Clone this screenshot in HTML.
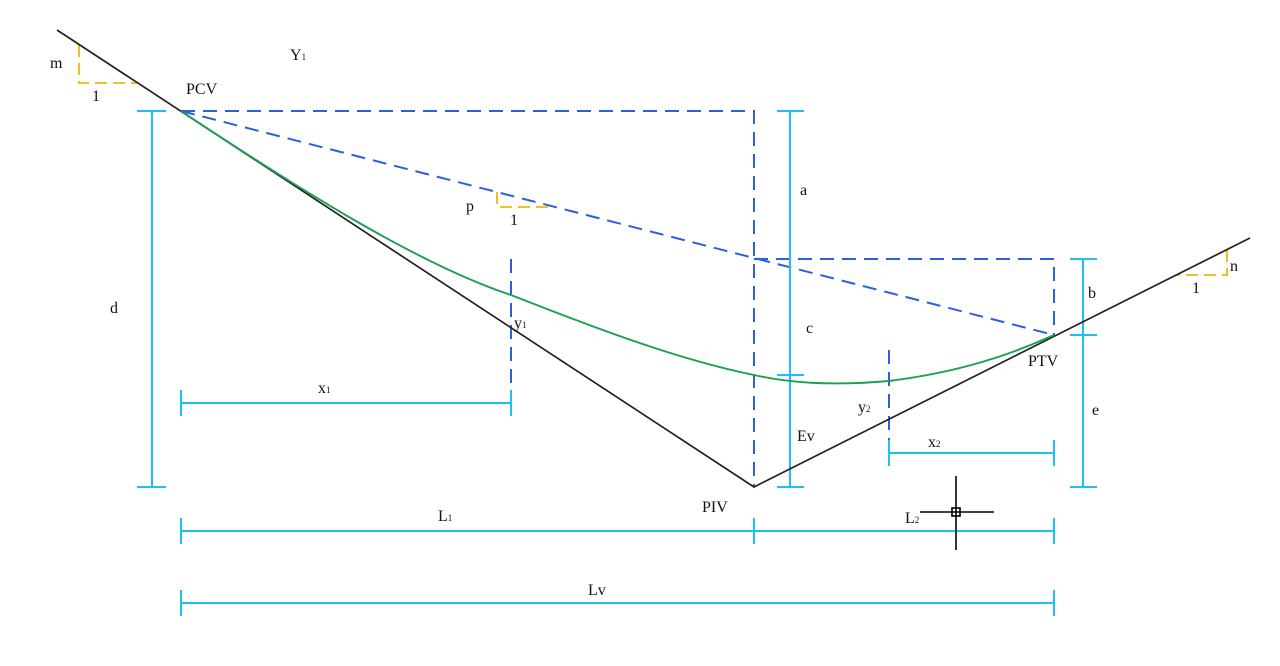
<!DOCTYPE html>
<html><head><meta charset="utf-8"><style>
html,body{margin:0;padding:0;background:#fff;}
svg text{font-family:"Liberation Serif",serif;font-size:16px;fill:#111;}
</style></head><body>
<svg width="1280" height="661" viewBox="0 0 1280 661" xmlns="http://www.w3.org/2000/svg">
<g stroke="#f0b800" stroke-width="1.8" fill="none" stroke-dasharray="12,6">
<polyline points="79,45 79,83 137,83"/>
<polyline points="497,192 497,207 555,207"/>
<polyline points="1227,250 1227,275 1175,275"/>
</g>
<g stroke="#2b5fe0" stroke-width="2" fill="none" stroke-dasharray="14,8">
<polyline points="181,111 754,111 754,487"/>
<line x1="181" y1="111" x2="1054" y2="335"/>
<polyline points="754,259 1054,259 1054,335"/>
<line x1="511" y1="259" x2="511" y2="415"/>
<line x1="889" y1="350" x2="889" y2="465"/>
</g>
<g stroke="#1ec0ee" stroke-width="2" fill="none">
<line x1="152" y1="111" x2="152" y2="487"/><line x1="137" y1="111" x2="166" y2="111"/><line x1="137" y1="487" x2="166" y2="487"/>
<line x1="790" y1="111" x2="790" y2="487"/><line x1="777" y1="111" x2="804" y2="111"/><line x1="777" y1="375" x2="804" y2="375"/><line x1="777" y1="487" x2="804" y2="487"/>
<line x1="1083" y1="259" x2="1083" y2="487"/><line x1="1070" y1="259" x2="1097" y2="259"/><line x1="1070" y1="335" x2="1097" y2="335"/><line x1="1070" y1="487" x2="1097" y2="487"/>
<line x1="181" y1="403" x2="511" y2="403"/><line x1="181" y1="390" x2="181" y2="416"/><line x1="511" y1="390" x2="511" y2="416"/>
<line x1="889" y1="453" x2="1054" y2="453"/><line x1="889" y1="440" x2="889" y2="466"/><line x1="1054" y1="440" x2="1054" y2="466"/>
<line x1="181" y1="531" x2="1054" y2="531"/><line x1="181" y1="518" x2="181" y2="544"/><line x1="754" y1="518" x2="754" y2="544"/><line x1="1054" y1="518" x2="1054" y2="544"/>
<line x1="181" y1="603" x2="1054" y2="603"/><line x1="181" y1="590" x2="181" y2="616"/><line x1="1054" y1="590" x2="1054" y2="616"/>
</g>
<polyline points="57,30 754,487 1250,238" stroke="#222" stroke-width="1.7" fill="none"/>
<path d="M181,111 C300,190 420,265 511,295 C600,330 680,360 754,375 C790,383 830,386 889,381 C960,372 1010,355 1054,335" stroke="#1aa050" stroke-width="1.9" fill="none"/>
<g stroke="#000" stroke-width="1.6" fill="none">
<line x1="920" y1="512" x2="994" y2="512"/><line x1="956" y1="476" x2="956" y2="550"/>
<rect x="952" y="508" width="8" height="8"/>
</g>
<text x="50" y="68">m</text>
<text x="92" y="101">1</text>
<text x="186" y="94">PCV</text>
<text x="290" y="60">Y<tspan font-size="9">1</tspan></text>
<text x="466" y="211">p</text>
<text x="510" y="225">1</text>
<text x="800" y="195">a</text>
<text x="110" y="313">d</text>
<text x="806" y="333">c</text>
<text x="514" y="328">y<tspan font-size="9">1</tspan></text>
<text x="318" y="393">x<tspan font-size="9">1</tspan></text>
<text x="858" y="412">y<tspan font-size="9">2</tspan></text>
<text x="797" y="441">Ev</text>
<text x="928" y="447">x<tspan font-size="9">2</tspan></text>
<text x="1088" y="298">b</text>
<text x="1092" y="415">e</text>
<text x="1028" y="366">PTV</text>
<text x="1230" y="271">n</text>
<text x="1192" y="293">1</text>
<text x="702" y="512">PIV</text>
<text x="438" y="521">L<tspan font-size="9">1</tspan></text>
<text x="905" y="523">L<tspan font-size="9">2</tspan></text>
<text x="588" y="595">Lv</text>
</svg>
</body></html>
